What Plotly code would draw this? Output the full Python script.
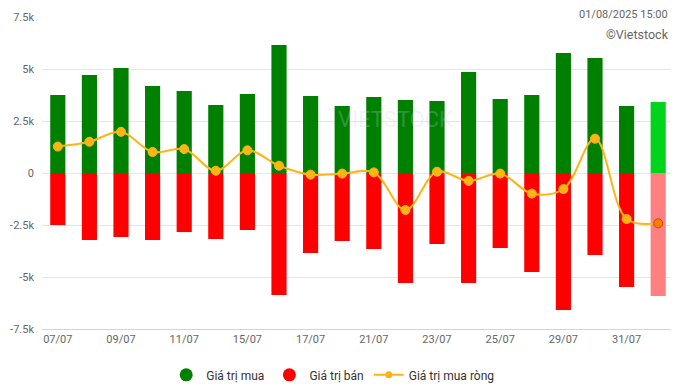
import plotly.graph_objects as go

dates = ["07/07", "08/07", "09/07", "10/07", "11/07", "14/07", "15/07", "16/07", "17/07", "18/07",
         "21/07", "22/07", "23/07", "24/07", "25/07", "28/07", "29/07", "30/07", "31/07", "01/08"]
buy = [3750, 4710, 5050, 4180, 3940, 3270, 3800, 6150, 3700, 3220,
       3650, 3510, 3460, 4860, 3560, 3750, 5770, 5530, 3220, 3410]
sell = [-2500, -3220, -3080, -3220, -2840, -3170, -2740, -5870, -3850, -3270,
        -3650, -5290, -3410, -5290, -3610, -4760, -6590, -3940, -5480, -5910]
net = [1270, 1500, 1980, 1010, 1150, 110, 1090, 350, -80, -30,
       30, -1780, 60, -380, -30, -990, -770, 1650, -2210, -2420]
ytick_vals = [-7500, -5000, -2500, 0, 2500, 5000, 7500]
ytick_text = ["-7.5k", "-5k", "-2.5k", "0", "2.5k", "5k", "7.5k"]

n = len(dates)
buy_colors = ["#008000"] * (n - 1) + ["#00d41c"]
sell_colors = ["#ff0000"] * (n - 1) + ["#ff8080"]
mk_colors = ["#fdb515"] * (n - 1) + ["#ff7a00"]
mk_line_colors = ["#fdb515"] * (n - 1) + ["#a05a10"]

fig = go.Figure()
fig.add_trace(go.Bar(x=dates, y=buy, marker=dict(color=buy_colors, line=dict(width=0)),
                     showlegend=False, name="Giá trị mua"))
fig.add_trace(go.Bar(x=dates, y=sell, marker=dict(color=sell_colors, line=dict(width=0)),
                     showlegend=False, name="Giá trị bán"))
fig.add_trace(go.Scatter(x=dates, y=net, mode="lines+markers", name="Giá trị mua ròng",
                         line=dict(color="#fdb515", width=2, shape="spline", smoothing=1.0),
                         marker=dict(size=9, color=mk_colors, line=dict(color=mk_line_colors, width=1)),
                         showlegend=False))
# legend entries
fig.add_trace(go.Scatter(x=[None], y=[None], mode="markers", name="Giá trị mua",
                         marker=dict(symbol="circle", size=13, color="#008000")))
fig.add_trace(go.Scatter(x=[None], y=[None], mode="markers", name="Giá trị bán",
                         marker=dict(symbol="circle", size=13, color="#ff0000")))
fig.add_trace(go.Scatter(x=[None], y=[None], mode="lines+markers", name="Giá trị mua ròng",
                         line=dict(color="#fdb515", width=2),
                         marker=dict(symbol="circle", size=7, color="#fdb515")))

# page has an 8px body margin, so the figure is sized/offset to land on the reference grid
fig.update_layout(
    width=671, height=376,
    margin=dict(l=34, r=5, t=9, b=55, autoexpand=False),
    paper_bgcolor="white", plot_bgcolor="white",
    font=dict(family="Roboto", size=11, color="#666666"),
    barmode="relative", bargap=0.52,
    legend=dict(orientation="h", x=0.46, xanchor="center", y=-0.147, yanchor="middle",
                font=dict(size=12, color="#333333"), itemwidth=30, tracegroupgap=0),
    xaxis=dict(type="category", range=[-0.5, n - 0.5], tickmode="array", tickvals=dates[::2],
               ticktext=dates[::2], showgrid=False, showline=True, linecolor="#ccd6eb", linewidth=1,
               automargin=False, ticks="", tickfont=dict(size=11, color="#666666"), fixedrange=True),
    yaxis=dict(range=[-7500, 7500], tickmode="array", tickvals=ytick_vals, ticktext=ytick_text,
               showgrid=True, gridcolor="#e6e6e6", gridwidth=1, zeroline=False, automargin=False,
               tickfont=dict(size=11, color="#666666"), ticks="", ticklabelstandoff=7),
    annotations=[
        dict(text="01/08/2025 15:00", xref="paper", yref="paper", x=1.0, y=1.0, xanchor="right",
             yanchor="middle", yshift=3, xshift=-4, showarrow=False,
             font=dict(size=11, color="#666666")),
        dict(text="©Vietstock", xref="paper", yref="paper", x=1.0, y=1.0, xanchor="right",
             yanchor="middle", yshift=-17, xshift=-3, showarrow=False, font=dict(size=12.5, color="#666666")),
        dict(text="VIETSTOCK", xref="paper", yref="paper", x=0.56, y=0.67, xanchor="center",
             yanchor="middle", showarrow=False, font=dict(size=22, color="rgba(200,210,230,0.25)")),
    ],
)

fig.write_html("out.html")
